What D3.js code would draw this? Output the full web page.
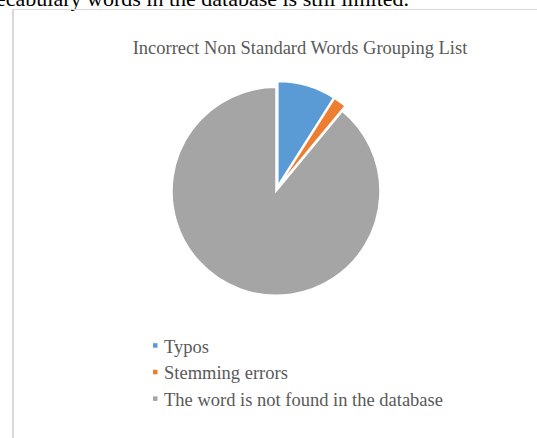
<!DOCTYPE html>
<html>
<head>
<meta charset="utf-8">
<script src="https://cdn.jsdelivr.net/npm/d3@7"></script>
<style>
  body { margin: 0; background: #fff; }
  svg { display: block; }
</style>
</head>
<body>
<div id="chart"></div>
<script>
const categories = ["Typos", "Stemming errors", "The word is not found in the database"];
const values = [9, 2, 89];
const colors = ["#5B9BD5", "#ED7D31", "#A5A5A5"];
const title = "Incorrect Non Standard Words Grouping List";

const W = 537, H = 438;
const CX = 277, CY = 188.5, R = 104, EXPLODE = 3;
const FONT = "Liberation Serif, Times New Roman, serif";

const svg = d3.select("#chart").append("svg")
  .attr("width", W)
  .attr("height", H);

// page text cut off above the chart
svg.append("text")
  .attr("x", -4)
  .attr("y", 5.5)
  .attr("font-family", FONT)
  .attr("font-size", 22)
  .attr("fill", "#000")
  .text("ecabulary words in the database is still limited.");

// chart frame
svg.append("line")
  .attr("x1", 13).attr("y1", 9.5).attr("x2", W).attr("y2", 9.5)
  .attr("stroke", "#d9d9d9").attr("stroke-width", 1);
svg.append("line")
  .attr("x1", 13).attr("y1", 9).attr("x2", 13).attr("y2", H)
  .attr("stroke", "#d9d9d9").attr("stroke-width", 2);

svg.append("text")
  .attr("x", 300)
  .attr("y", 54)
  .attr("text-anchor", "middle")
  .attr("font-family", FONT)
  .attr("font-size", 18.5)
  .attr("fill", "#595959")
  .text(title);

const data = categories.map((c, i) => ({name: c, value: values[i]}));
const pie = d3.pie().sort(null).value(d => d.value);
const arc = d3.arc().innerRadius(0).outerRadius(R);
const color = d3.scaleOrdinal().domain(categories).range(colors);

const g = svg.append("g")
  .attr("transform", `translate(${CX},${CY})`);

g.selectAll("path")
  .data(pie(data))
  .enter().append("path")
    .attr("d", arc)
    .attr("transform", d => {
      const a = (d.startAngle + d.endAngle) / 2;
      return `translate(${Math.sin(a) * EXPLODE},${-Math.cos(a) * EXPLODE})`;
    })
    .attr("fill", d => color(d.data.name))
    .attr("stroke", "#fff")
    .attr("stroke-width", 1.5);

// legend
const legend = svg.append("g")
  .attr("transform", "translate(153,352.7)");

const items = legend.selectAll("g")
  .data(categories)
  .enter().append("g")
    .attr("transform", (d, i) => `translate(0,${i * 26.6})`);

items.append("rect")
  .attr("x", 0).attr("y", -9.5)
  .attr("width", 4.5).attr("height", 4.5)
  .attr("fill", d => color(d));

items.append("text")
  .attr("x", 11)
  .attr("y", 0)
  .attr("font-family", FONT)
  .attr("font-size", 18.5)
  .attr("fill", "#595959")
  .text(d => d);
</script>
</body>
</html>
